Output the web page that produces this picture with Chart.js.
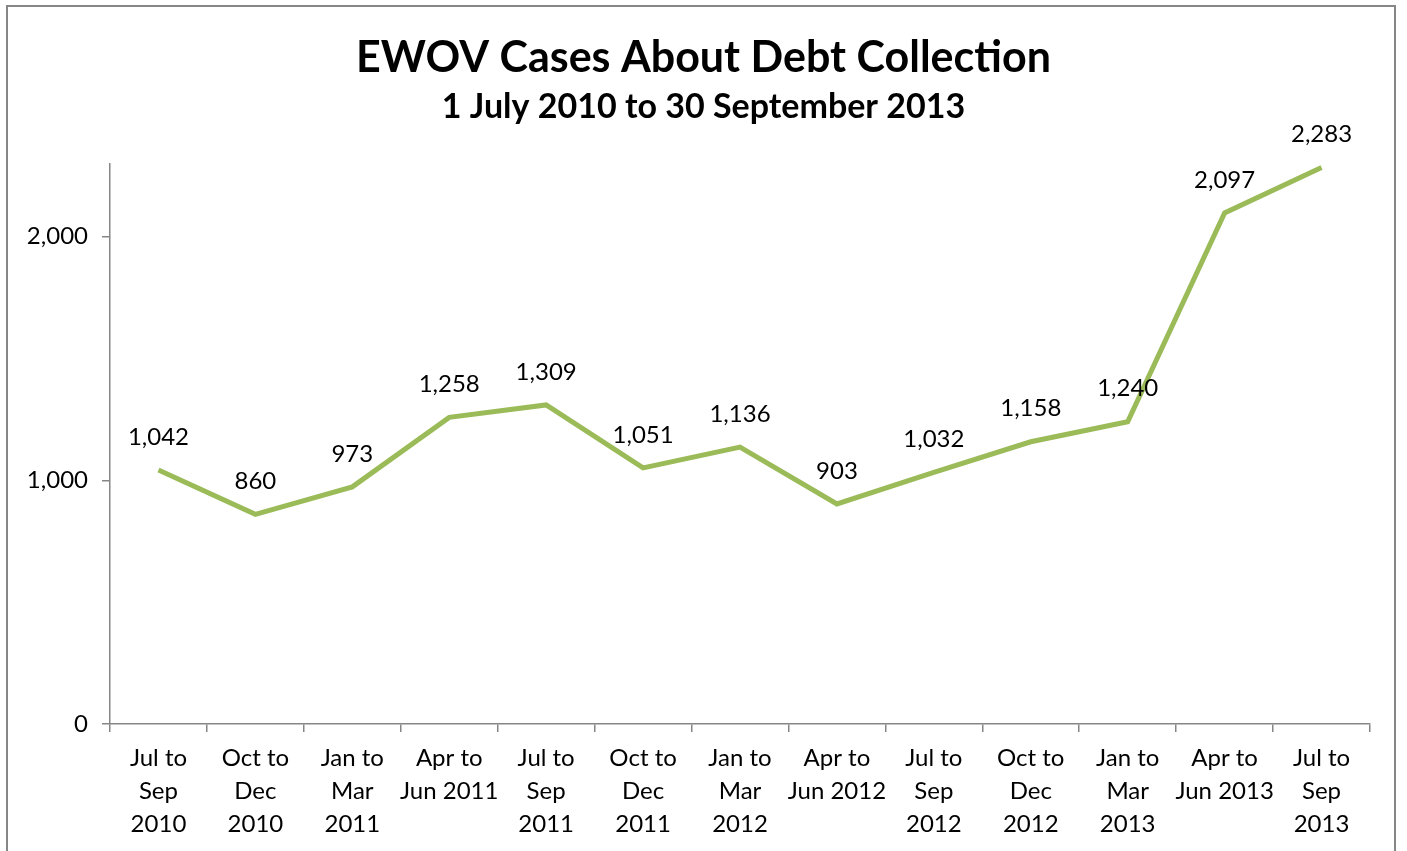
<!DOCTYPE html>
<html>
<head>
<meta charset="utf-8">
<script src="https://cdn.jsdelivr.net/npm/chart.js@4"></script>
<style>
  html, body { margin: 0; padding: 0; width: 1407px; height: 851px; overflow: hidden; background: #fff; }
  #frame { position: absolute; left: 6px; top: 5px; width: 1390px; height: 900px; border: 2px solid #868686; box-sizing: border-box; }
  #wrap { position: absolute; left: 0; top: 0; width: 1407px; height: 851px; }
</style>
</head>
<body>
<div id="frame"></div>
<div id="wrap"><canvas id="c" width="1407" height="851"></canvas></div>
<script>
const categories = [
  ["Jul to", "Sep", "2010"],
  ["Oct to", "Dec", "2010"],
  ["Jan to", "Mar", "2011"],
  ["Apr to", "Jun 2011"],
  ["Jul to", "Sep", "2011"],
  ["Oct to", "Dec", "2011"],
  ["Jan to", "Mar", "2012"],
  ["Apr to", "Jun 2012"],
  ["Jul to", "Sep", "2012"],
  ["Oct to", "Dec", "2012"],
  ["Jan to", "Mar", "2013"],
  ["Apr to", "Jun 2013"],
  ["Jul to", "Sep", "2013"]
];
const cases = [1042, 860, 973, 1258, 1309, 1051, 1136, 903, 1032, 1158, 1240, 2097, 2283];
const yTicks = [0, 1000, 2000];
const titleText = "EWOV Cases About Debt Collection";
const subtitleText = "1 July 2010 to 30 September 2013";

const FONT = "Lato, 'Open Sans', sans-serif";

const dataLabels = {
  id: 'dataLabels',
  afterDatasetsDraw(chart) {
    const ctx = chart.ctx;
    const meta = chart.getDatasetMeta(0);
    ctx.save();
    ctx.font = "24px " + FONT;
    ctx.fillStyle = "#000";
    ctx.textAlign = "center";
    ctx.textBaseline = "middle";
    meta.data.forEach((pt, i) => {
      const v = chart.data.datasets[0].data[i];
      ctx.fillText(v.toLocaleString('en-US'), pt.x, pt.y - 33);
    });
    ctx.restore();
  }
};

new Chart(document.getElementById('c'), {
  type: 'line',
  data: {
    labels: categories,
    datasets: [{
      data: cases,
      yAxisID: 'y',
      borderColor: '#9BBB59',
      borderWidth: 5,
      pointRadius: 0,
      pointHoverRadius: 0,
      tension: 0,
      fill: false
    }]
  },
  options: {
    responsive: false,
    animation: false,
    events: [],
    layout: { padding: { left: 0, right: 0, top: 0, bottom: 0 } },
    plugins: {
      legend: { display: false },
      tooltip: { enabled: false },
      title: {
        display: true,
        text: titleText,
        color: '#000',
        font: { family: FONT, size: 43, weight: 'bold', lineHeight: 1.2 },
        padding: { top: 32, bottom: 0 }
      },
      subtitle: {
        display: true,
        text: subtitleText,
        color: '#000',
        font: { family: FONT, size: 34, weight: 'bold', lineHeight: 1.2 },
        padding: { top: 3, bottom: 36 }
      }
    },
    scales: {
      x: {
        type: 'category',
        offset: true,
        grid: {
          offset: true,
          drawOnChartArea: false,
          drawTicks: true,
          tickLength: 8,
          color: '#868686',
          lineWidth: 1.5
        },
        border: { display: true, color: '#868686', width: 1.5 },
        ticks: {
          color: '#000',
          font: { family: FONT, size: 24, lineHeight: 1.375 },
          padding: 10,
          maxRotation: 0,
          minRotation: 0,
          autoSkip: false
        }
      },
      y: {
        min: 0,
        max: 2300,
        afterBuildTicks(scale) {
          scale.ticks = yTicks.map(v => ({ value: v }));
        },
        afterFit(scale) { scale.width = 110; },
        grid: {
          drawOnChartArea: false,
          drawTicks: true,
          tickLength: 8,
          color: '#868686',
          lineWidth: 1.5
        },
        border: { display: true, color: '#868686', width: 1.5 },
        ticks: {
          color: '#000',
          font: { family: FONT, size: 24 },
          padding: 14,
          callback: v => v.toLocaleString('en-US')
        }
      },
      yRight: {
        position: 'right',
        display: true,
        min: 0,
        max: 2300,
        afterFit(scale) { scale.width = 37; },
        grid: { display: false, drawOnChartArea: false, drawTicks: false },
        border: { display: false },
        ticks: { display: false }
      }
    }
  },
  plugins: [dataLabels]
});
</script>
</body>
</html>
